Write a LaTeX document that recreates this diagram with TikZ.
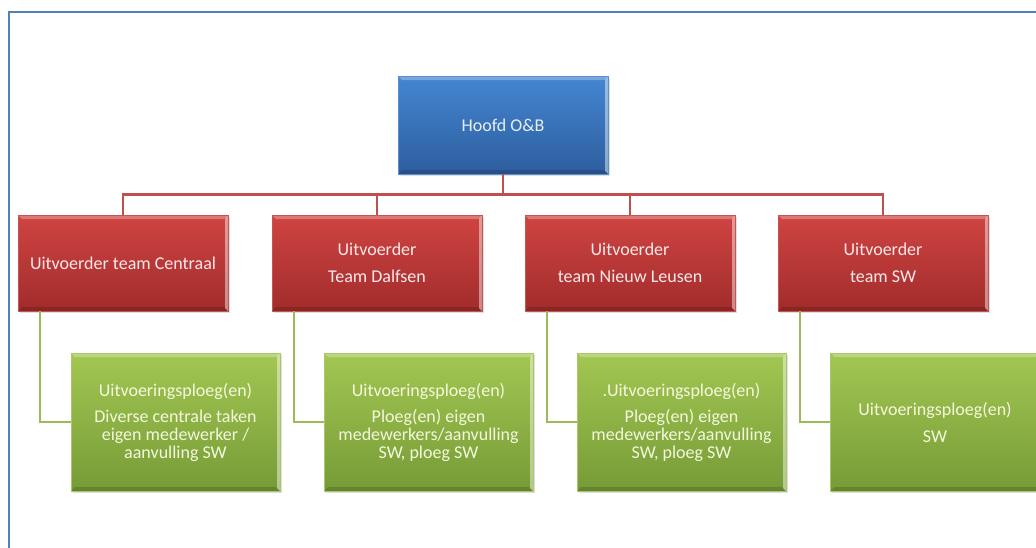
\documentclass[tikz,border=0pt]{standalone}
\usepackage{fontspec}
\setmainfont{Carlito}
\usetikzlibrary{shadows}
\definecolor{frameblue}{HTML}{4F81BD}
\definecolor{blueT}{HTML}{4486D2}
\definecolor{blueB}{HTML}{2D5E9E}
\definecolor{blueE}{HTML}{5B8FD0}
\definecolor{blueTx}{HTML}{E6EEF9}
\definecolor{redT}{HTML}{D04442}
\definecolor{redB}{HTML}{A02C2B}
\definecolor{redE}{HTML}{C85452}
\definecolor{redTx}{HTML}{FBE9EC}
\definecolor{greenT}{HTML}{A3C752}
\definecolor{greenB}{HTML}{769B37}
\definecolor{greenE}{HTML}{A9C968}
\definecolor{greenTx}{HTML}{F4F8DC}
\definecolor{redline}{HTML}{C0504D}
\definecolor{greenline}{HTML}{9BBB59}
\tikzset{
  bevel/.style={path picture={
      \fill[white, opacity=0.28]
        (path picture bounding box.north west) -- (path picture bounding box.north east)
        -- ([xshift=-4pt,yshift=-4pt]path picture bounding box.north east)
        -- ([xshift=4pt,yshift=-4pt]path picture bounding box.north west) -- cycle;
      \fill[white, opacity=0.45]
        (path picture bounding box.north east) -- (path picture bounding box.south east)
        -- ([xshift=-3pt,yshift=3pt]path picture bounding box.south east)
        -- ([xshift=-3pt,yshift=-3pt]path picture bounding box.north east) -- cycle;
      \fill[black, opacity=0.15]
        (path picture bounding box.south west) -- (path picture bounding box.south east)
        -- ([xshift=-4pt,yshift=4pt]path picture bounding box.south east)
        -- ([xshift=4pt,yshift=4pt]path picture bounding box.south west) -- cycle;
  }},
  orgbox/.style={rectangle, inner sep=2pt, align=center, line width=0.6pt,
    font=\fontsize{18}{18}\selectfont, bevel,
    drop shadow={opacity=0.25, shadow xshift=1.5pt, shadow yshift=-2pt}},
  headbox/.style={orgbox, minimum width=210pt, minimum height=98pt,
    top color=blueT, bottom color=blueB, draw=blueE, text=blueTx},
  leadbox/.style={orgbox, minimum width=210pt, minimum height=96pt,
    top color=redT, bottom color=redB, draw=redE, text=redTx},
  crewbox/.style={orgbox, minimum width=209pt, minimum height=138pt,
    top color=greenT, bottom color=greenB, draw=greenE, text=greenTx},
  redlink/.style={draw=redline, line width=2.5pt},
  greenlink/.style={draw=greenline, line width=2pt},
}
\begin{document}
\begin{tikzpicture}[x=1pt, y=-1pt]
\clip (0,0) rectangle (1036,547);
\fill[white] (0,0) rectangle (1036,547);
\draw[frameblue, line width=1.5pt] (9,12) rectangle (1060,570);

% top of the organisation
\node[headbox] (hoofd) at (503,125) {Hoofd O\&B};

% team leaders
\node[leadbox] (r1) at (123,263) {Uitvoerder team Centraal};
\node[leadbox] (r2) at (377,263) {Uitvoerder\\[9pt]Team Dalfsen};
\node[leadbox] (r3) at (630,263) {Uitvoerder\\[9pt]team Nieuw Leusen};
\node[leadbox] (r4) at (883,263) {Uitvoerder\\[9pt]team SW};

% crews
\node[crewbox] (g1) at (175.5,422) {Uitvoeringsploeg(en)\\[8pt]Diverse centrale taken\\eigen medewerker /\\aanvulling SW};
\node[crewbox] (g2) at (428.5,422) {Uitvoeringsploeg(en)\\[8pt]Ploeg(en) eigen\\medewerkers/aanvulling\\SW, ploeg SW};
\node[crewbox] (g3) at (681.5,422) {.Uitvoeringsploeg(en)\\[8pt]Ploeg(en) eigen\\medewerkers/aanvulling\\SW, ploeg SW};
\node[crewbox] (g4) at (935,422) {Uitvoeringsploeg(en)\\[9pt]SW};

% links from the head to the team leaders
\foreach \r in {r1,r2,r3,r4}
  \draw[redlink] (hoofd.south) -- ++(0,20) -| (\r.north);

% links from each team leader to its crew
\foreach \r/\g in {r1/g1,r2/g2,r3/g3,r4/g4}
  \draw[greenlink] ([xshift=22pt]\r.south west) |- (\g.west);
\end{tikzpicture}
\end{document}
